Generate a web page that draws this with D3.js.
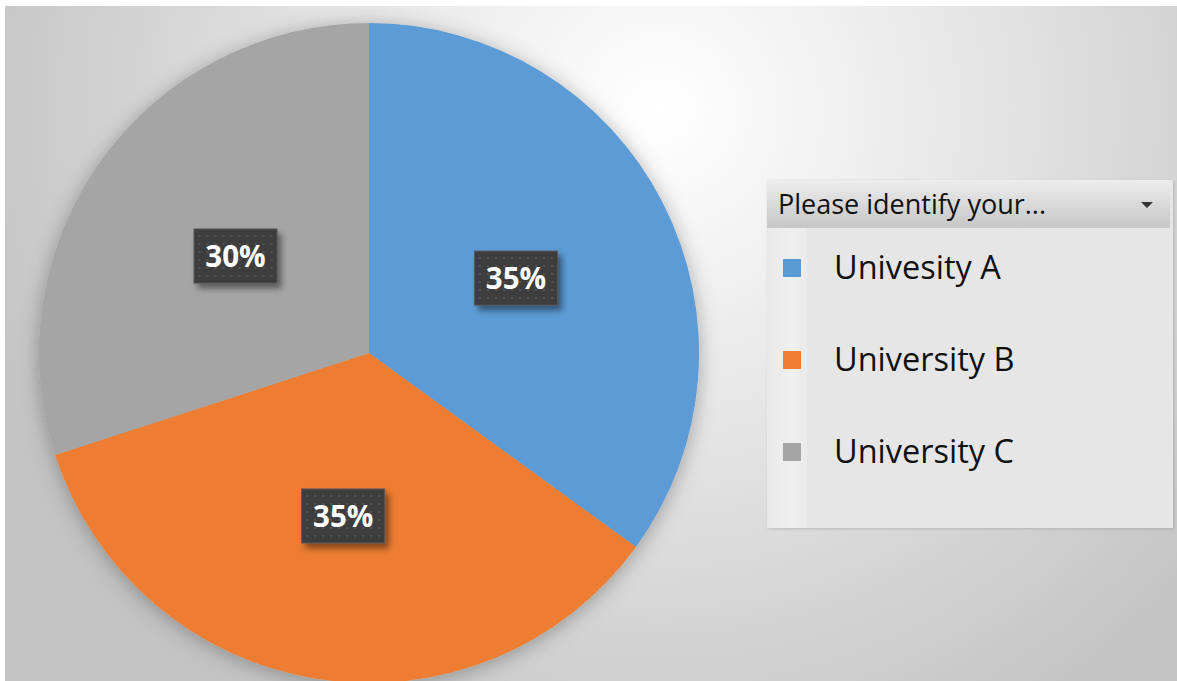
<!DOCTYPE html>
<html>
<head>
<meta charset="utf-8">
<script src="https://cdn.jsdelivr.net/npm/d3@7"></script>
<style>
  html, body { margin: 0; padding: 0; background: #ffffff; }
  svg { display: block; }
</style>
</head>
<body>
<svg id="chart" width="1177" height="681"></svg>
<script>
// Survey responses by university
const categories = ["Univesity A", "University B", "University C"];
const values = [35, 35, 30];
const colors = ["#5b9bd5", "#ed7d31", "#a5a5a5"];
const legendTitle = "Please identify your...";

const W = 1177, H = 681;
const svg = d3.select("#chart");
const defs = svg.append("defs");

// Chart area background: soft radial highlight
const bg = defs.append("radialGradient").attr("id", "bgGrad")
  .attr("gradientUnits", "userSpaceOnUse")
  .attr("cx", 660).attr("cy", 110).attr("r", 720);
bg.append("stop").attr("offset", "0%").attr("stop-color", "#ffffff");
bg.append("stop").attr("offset", "35%").attr("stop-color", "#ebebeb");
bg.append("stop").attr("offset", "100%").attr("stop-color", "#c3c3c3");

svg.append("rect").attr("x", 5).attr("y", 6).attr("width", W - 5).attr("height", H - 6)
  .attr("fill", "url(#bgGrad)");

// Soft shadow for the pie
const pieShadow = defs.append("filter").attr("id", "pieShadow")
  .attr("x", "-20%").attr("y", "-20%").attr("width", "140%").attr("height", "140%");
pieShadow.append("feDropShadow").attr("dx", 0).attr("dy", 3).attr("stdDeviation", 10)
  .attr("flood-color", "#000").attr("flood-opacity", 0.3);

// Label box shadow
const boxShadow = defs.append("filter").attr("id", "boxShadow")
  .attr("x", "-30%").attr("y", "-30%").attr("width", "170%").attr("height", "180%");
boxShadow.append("feDropShadow").attr("dx", 4).attr("dy", 5).attr("stdDeviation", 3)
  .attr("flood-color", "#000").attr("flood-opacity", 0.45);

// Dotted texture for label boxes
const dots = defs.append("pattern").attr("id", "dots")
  .attr("patternUnits", "userSpaceOnUse").attr("width", 8).attr("height", 8);
dots.append("rect").attr("width", 8).attr("height", 8).attr("fill", "#3c3c3c");
dots.append("rect").attr("x", 3).attr("y", 3).attr("width", 2).attr("height", 2).attr("fill", "#535353");

// Pie
const cx = 369, cy = 353, R = 330;
const pie = d3.pie().sort(null).value(d => d.value);
const data = categories.map((c, i) => ({ name: c, value: values[i], color: colors[i] }));
const arcs = pie(data);
const total = d3.sum(values);
const arc = d3.arc().innerRadius(0).outerRadius(R);
const labelArc = d3.arc().innerRadius(R * 0.5).outerRadius(R * 0.5);

const g = svg.append("g").attr("transform", `translate(${cx},${cy})`);
g.append("g").attr("filter", "url(#pieShadow)")
  .selectAll("path").data(arcs).join("path")
  .attr("d", arc).attr("fill", d => d.data.color);

// Data labels
const fmt = d3.format(".0%");
const lab = g.selectAll("g.lbl").data(arcs).join("g").attr("class", "lbl")
  .attr("transform", d => `translate(${labelArc.centroid(d)})`);
lab.append("rect").attr("x", -41.5).attr("y", -27).attr("width", 83).attr("height", 54)
  .attr("fill", "url(#dots)").attr("stroke", "#555555").attr("stroke-width", 1)
  .attr("filter", "url(#boxShadow)");
lab.append("text").attr("text-anchor", "middle").attr("dy", "0.36em")
  .attr("fill", "#ffffff").attr("font-family", "'Open Sans', 'Noto Sans', sans-serif")
  .attr("font-weight", 700).attr("font-size", 29.5)
  .text(d => fmt(d.data.value / total));

// Legend
const lx = 767, ly = 180, lw = 406, lh = 348;
const legShadow = defs.append("filter").attr("id", "legShadow")
  .attr("x", "-5%").attr("y", "-5%").attr("width", "110%").attr("height", "110%");
legShadow.append("feDropShadow").attr("dx", 1).attr("dy", 1).attr("stdDeviation", 1.5)
  .attr("flood-color", "#000").attr("flood-opacity", 0.15);

const hdrGrad = defs.append("linearGradient").attr("id", "hdrGrad")
  .attr("x1", 0).attr("y1", 0).attr("x2", 0).attr("y2", 1);
hdrGrad.append("stop").attr("offset", "0%").attr("stop-color", "#ededed");
hdrGrad.append("stop").attr("offset", "100%").attr("stop-color", "#c6c6c6");

const stripGrad = defs.append("linearGradient").attr("id", "stripGrad")
  .attr("x1", 0).attr("y1", 0).attr("x2", 1).attr("y2", 0);
stripGrad.append("stop").attr("offset", "0%").attr("stop-color", "#e9e9e9");
stripGrad.append("stop").attr("offset", "60%").attr("stop-color", "#efefef");
stripGrad.append("stop").attr("offset", "100%").attr("stop-color", "#ebebeb");

const leg = svg.append("g");
leg.append("rect").attr("x", lx).attr("y", ly).attr("width", lw).attr("height", lh)
  .attr("fill", "#e6e6e6").attr("filter", "url(#legShadow)");
leg.append("rect").attr("x", lx).attr("y", ly + 48).attr("width", 40).attr("height", lh - 48)
  .attr("fill", "url(#stripGrad)");
leg.append("rect").attr("x", lx).attr("y", ly).attr("width", lw - 3).attr("height", 48)
  .attr("fill", "url(#hdrGrad)");
leg.append("text").attr("x", lx + 11).attr("y", ly + 34)
  .attr("font-family", "'Open Sans', 'Noto Sans', sans-serif").attr("font-size", 27)
  .attr("fill", "#111111").text(legendTitle);
leg.append("path")
  .attr("d", `M${lx + 374},${ly + 22} L${lx + 386},${ly + 22} L${lx + 380},${ly + 28} Z`)
  .attr("fill", "#333333");

const rowY = d3.scalePoint().domain(categories).range([ly + 88, ly + 272]);
const rows = leg.selectAll("g.row").data(data).join("g").attr("class", "row")
  .attr("transform", d => `translate(0,${rowY(d.name)})`);
rows.append("rect").attr("x", lx + 16).attr("y", -9).attr("width", 18).attr("height", 18)
  .attr("fill", d => d.color);
rows.append("text").attr("x", lx + 67).attr("y", 11)
  .attr("font-family", "'Open Sans', 'Noto Sans', sans-serif").attr("font-size", 32.5)
  .attr("fill", "#111111").text(d => d.name);
</script>
</body>
</html>
